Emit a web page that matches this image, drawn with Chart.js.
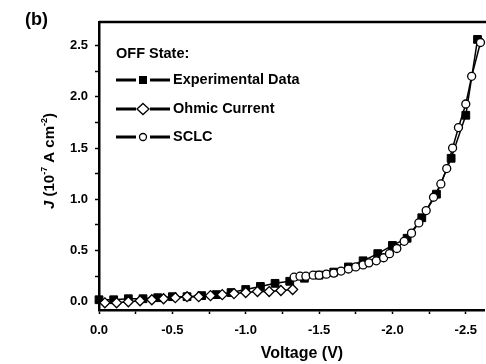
<!DOCTYPE html>
<html>
<head>
<meta charset="utf-8">
<script src="https://cdn.jsdelivr.net/npm/chart.js@4"></script>
<style>
  html, body { margin: 0; padding: 0; background: #fff; }
</style>
</head>
<body>
<canvas id="ivChart" width="486" height="364"></canvas>
<script>
// OFF state J-V data, J in 1e-7 A cm^-2
const expV = [0, -0.1, -0.2, -0.3, -0.4, -0.5, -0.6, -0.7, -0.8, -0.9, -1.0, -1.1, -1.2, -1.3,
  -1.4, -1.5, -1.6, -1.7, -1.8, -1.9, -2.0, -2.1, -2.2, -2.3, -2.4, -2.5, -2.58];
const expJ = [0.02, 0.02, 0.03, 0.03, 0.04, 0.05, 0.05, 0.06, 0.07, 0.09, 0.12, 0.15, 0.18, 0.20,
  0.23, 0.26, 0.29, 0.34, 0.40, 0.47, 0.55, 0.62, 0.82, 1.05, 1.40, 1.82, 2.56];

const ohmV = [-0.04, -0.12, -0.2, -0.28, -0.36, -0.44, -0.52, -0.6, -0.68, -0.76, -0.84, -0.92,
  -1.0, -1.08, -1.16, -1.24, -1.32];
const ohmJ = [-0.01, -0.01, 0.0, 0.01, 0.02, 0.03, 0.04, 0.05, 0.05, 0.06, 0.07, 0.08,
  0.09, 0.10, 0.10, 0.11, 0.12];

const sclcV = [-1.33, -1.37, -1.41, -1.46, -1.50, -1.55, -1.60, -1.65, -1.70, -1.75, -1.80, -1.84,
  -1.89, -1.94, -1.98, -2.03, -2.08, -2.13, -2.18, -2.23, -2.28, -2.33, -2.37, -2.41, -2.45,
  -2.50, -2.54, -2.60];
const sclcJ = [0.24, 0.25, 0.25, 0.26, 0.26, 0.27, 0.28, 0.30, 0.32, 0.34, 0.36, 0.38,
  0.40, 0.43, 0.47, 0.52, 0.59, 0.67, 0.77, 0.89, 1.02, 1.15, 1.30, 1.50, 1.70,
  1.93, 2.20, 2.53];

const xTickLabels = ["0.0", "-0.5", "-1.0", "-1.5", "-2.0", "-2.5"];
const yTickLabels = ["0.0", "0.5", "1.0", "1.5", "2.0", "2.5"];
const seriesNames = ["Experimental Data", "Ohmic Current", "SCLC"];

const FONT = "'Liberation Sans', Arial, sans-serif";

function pts(xs, ys) {
  return xs.map((x, i) => ({ x: x, y: ys[i] }));
}

function majorLabel(list) {
  return function (v) {
    const s = Number(v).toFixed(1);
    return list.includes(s) ? s : "";
  };
}

const decorPlugin = {
  id: "decor",
  afterDraw(chart) {
    const ctx = chart.ctx;
    const a = chart.chartArea;
    ctx.save();
    // top frame
    ctx.strokeStyle = "#000";
    ctx.lineWidth = 2.5;
    ctx.beginPath();
    ctx.moveTo(a.left, a.top);
    ctx.lineTo(chart.width, a.top);
    ctx.stroke();

    ctx.fillStyle = "#000";
    ctx.textBaseline = "middle";
    // panel label
    ctx.font = "bold 18px " + FONT;
    ctx.textAlign = "left";
    ctx.fillText("(b)", 25, 20);

    // legend
    ctx.font = "bold 14.5px " + FONT;
    ctx.fillText("OFF State:", 116, 54);
    const rows = [80, 109, 137];
    const styles = ["rect", "rectRot", "circle"];
    rows.forEach((y, i) => {
      ctx.lineWidth = 3;
      ctx.beginPath();
      ctx.moveTo(116, y); ctx.lineTo(136, y);
      ctx.moveTo(150, y); ctx.lineTo(170, y);
      ctx.stroke();
      ctx.lineWidth = 1.3;
      ctx.beginPath();
      if (styles[i] === "rect") {
        ctx.fillRect(139, y - 4, 8, 8);
      } else if (styles[i] === "rectRot") {
        ctx.fillStyle = "#fff";
        ctx.moveTo(143, y - 5.5); ctx.lineTo(149, y); ctx.lineTo(143, y + 5.5); ctx.lineTo(137, y);
        ctx.closePath(); ctx.fill(); ctx.stroke();
        ctx.fillStyle = "#000";
      } else {
        ctx.fillStyle = "#fff";
        ctx.arc(143, y, 3.5, 0, Math.PI * 2);
        ctx.fill(); ctx.stroke();
        ctx.fillStyle = "#000";
      }
      ctx.fillText(seriesNames[i], 173, y);
    });

    // x title
    ctx.font = "bold 16px " + FONT;
    ctx.textAlign = "center";
    ctx.fillText("Voltage (V)", 302, 354);

    // y title, rotated, with italic J and superscripts
    const parts = [
      { t: "J", f: "italic bold 15px " + FONT, dy: 0 },
      { t: " (10", f: "bold 15px " + FONT, dy: 0 },
      { t: "-7", f: "bold 9px " + FONT, dy: -5 },
      { t: " A cm", f: "bold 15px " + FONT, dy: 0 },
      { t: "-2", f: "bold 9px " + FONT, dy: -5 },
      { t: ")", f: "bold 15px " + FONT, dy: 0 }
    ];
    let total = 0;
    parts.forEach(p => { ctx.font = p.f; p.w = ctx.measureText(p.t).width; total += p.w; });
    ctx.translate(50, 161);
    ctx.rotate(-Math.PI / 2);
    ctx.textAlign = "left";
    let cx = -total / 2;
    parts.forEach(p => {
      ctx.font = p.f;
      ctx.fillText(p.t, cx, p.dy);
      cx += p.w;
    });
    ctx.restore();
  }
};

const ctx = document.getElementById("ivChart").getContext("2d");

const ivChart = new Chart(ctx, {
  type: "scatter",
  data: {
    datasets: [{
      label: seriesNames[0],
      data: pts(expV, expJ),
      showLine: true,
      borderColor: "#000",
      borderWidth: 1.5,
      pointStyle: "rect",
      pointRadius: 5.5,
      pointBackgroundColor: "#000",
      pointBorderColor: "#000",
      pointBorderWidth: 1,
      order: 3,
      clip: false
    }, {
      label: seriesNames[1],
      data: pts(ohmV, ohmJ),
      showLine: true,
      borderColor: "#000",
      borderWidth: 1.5,
      pointStyle: "rectRot",
      pointRadius: 5,
      pointBackgroundColor: "#fff",
      pointBorderColor: "#000",
      pointBorderWidth: 1.3,
      order: 2,
      clip: false
    }, {
      label: seriesNames[2],
      data: pts(sclcV, sclcJ),
      showLine: true,
      borderColor: "#000",
      borderWidth: 1.5,
      pointStyle: "circle",
      pointRadius: 4,
      pointBackgroundColor: "#fff",
      pointBorderColor: "#000",
      pointBorderWidth: 1.3,
      order: 1,
      clip: false
    }]
  },
  options: {
    responsive: false,
    animation: false,
    layout: { autoPadding: false, padding: { top: 22, left: 0, right: 0, bottom: 0 } },
    plugins: {
      legend: { display: false },
      tooltip: { enabled: false }
    },
    scales: {
      x: {
        type: "linear",
        reverse: true,
        min: -2.625,
        max: 0,
        afterFit: s => { s.height = 54; },
        border: { color: "#000", width: 2.5 },
        grid: { drawOnChartArea: false, drawTicks: true, tickLength: 4, tickWidth: 1.5, tickColor: "#000" },
        ticks: {
          stepSize: 0.25,
          autoSkip: false,
          includeBounds: false,
          maxRotation: 0,
          padding: 9,
          color: "#000",
          font: { family: FONT, size: 13, weight: "bold" },
          callback: majorLabel(xTickLabels)
        }
      },
      y: {
        type: "linear",
        min: -0.08,
        max: 2.73,
        afterFit: s => { s.width = 99; },
        border: { color: "#000", width: 2.5 },
        grid: { drawOnChartArea: false, drawTicks: true, tickLength: 4, tickWidth: 1.5, tickColor: "#000" },
        ticks: {
          stepSize: 0.25,
          autoSkip: false,
          includeBounds: false,
          padding: 7,
          color: "#000",
          font: { family: FONT, size: 13, weight: "bold" },
          callback: majorLabel(yTickLabels)
        }
      }
    }
  },
  plugins: [decorPlugin]
});
</script>
</body>
</html>
